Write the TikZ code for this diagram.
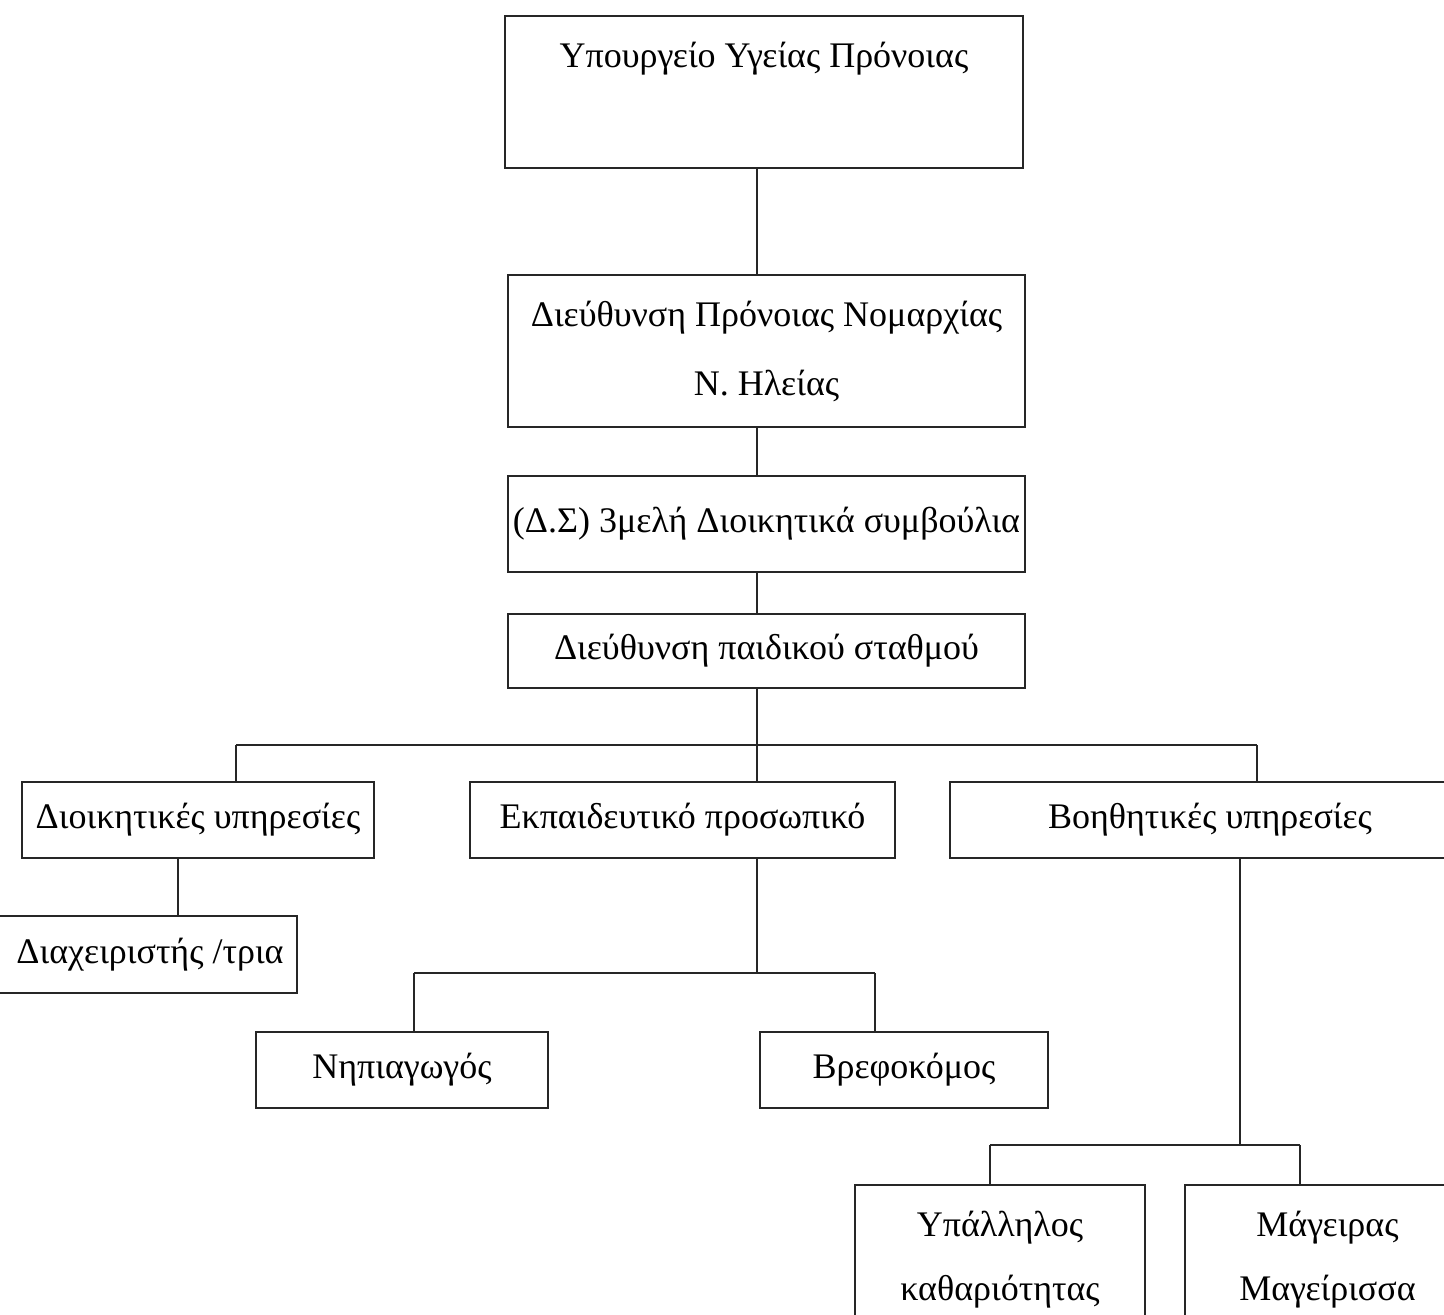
\documentclass[tikz,border=0pt]{standalone}
\usepackage{fontspec}
\setmainfont{Liberation Serif}
\begin{document}
\begin{tikzpicture}[x=1pt,y=-1pt,
  box/.style={draw=black!85, line width=1.6pt, inner sep=0pt, font=\fontsize{36}{43}\selectfont, align=center},
  link/.style={draw=black!85, line width=1.6pt}]
\useasboundingbox (0,0) rectangle (1444,1315);
\fill[white] (0,0) rectangle (1444,1315);
\clip (0,0) rectangle (1444,1315);
% boxes
\node[box, minimum width=518, text height=51, text depth=101, anchor=base] (b1) at (764,67) {Υπουργείο Υγείας Πρόνοιας};
\node[box, minimum width=517, minimum height=152] (b2) at (766.5,351) {Διεύθυνση Πρόνοιας Νομαρχίας\\[26pt]Ν. Ηλείας};
\node[box, minimum width=517, minimum height=96] (b3) at (766.5,524) {(Δ.Σ) 3μελή Διοικητικά συμβούλια};
\node[box, minimum width=517, minimum height=74] (b4) at (766.5,651) {Διεύθυνση παιδικού σταθμού};
\node[box, minimum width=352, minimum height=76] (b5) at (198,820) {Διοικητικές υπηρεσίες};
\node[box, minimum width=425, minimum height=76] (b7) at (682.5,820) {Εκπαιδευτικό προσωπικό};
\node[box, minimum width=520, minimum height=76] (b10) at (1210,820) {Βοηθητικές υπηρεσίες};
\node[box, minimum width=307, minimum height=77] (b6) at (143.5,954.5) {\hspace*{13pt}Διαχειριστής /τρια};
\node[box, minimum width=292, minimum height=76] (b8) at (402,1070) {Νηπιαγωγός};
\node[box, minimum width=288, minimum height=76] (b9) at (904,1070) {Βρεφοκόμος};
\node[box, minimum width=290, minimum height=150] (b11) at (1000,1260) {Υπάλληλος\\[21pt]καθαριότητας};
\node[box, minimum width=285, minimum height=150] (b12) at (1327.5,1260) {Μάγειρας\\[21pt]Μαγείρισσα};
% junction coordinates
\coordinate (sp) at (757,745);
\coordinate (busL) at (236,745);
\coordinate (busR) at (1257,745);
\coordinate (s5) at (178,0);
\coordinate (j7) at (757,973);
\coordinate (j7L) at (414,973);
\coordinate (j7R) at (875,973);
\coordinate (j10) at (1240,1145);
\coordinate (j10L) at (990,1145);
\coordinate (j10R) at (1300,1145);
% connectors
\draw[link] (sp |- b1.south) -- (sp |- b2.north);
\draw[link] (sp |- b2.south) -- (sp |- b3.north);
\draw[link] (sp |- b3.south) -- (sp |- b4.north);
\draw[link] (sp |- b4.south) -- (sp |- b7.north);
\draw[link] (busL) -- (busR);
\draw[link] (busL) -- (busL |- b5.north);
\draw[link] (busR) -- (busR |- b10.north);
\draw[link] (s5 |- b5.south) -- (s5 |- b6.north);
\draw[link] (j7 |- b7.south) -- (j7);
\draw[link] (j7L) -- (j7R);
\draw[link] (j7L) -- (j7L |- b8.north);
\draw[link] (j7R) -- (j7R |- b9.north);
\draw[link] (j10 |- b10.south) -- (j10);
\draw[link] (j10L) -- (j10R);
\draw[link] (j10L) -- (j10L |- b11.north);
\draw[link] (j10R) -- (j10R |- b12.north);
\end{tikzpicture}
\end{document}
